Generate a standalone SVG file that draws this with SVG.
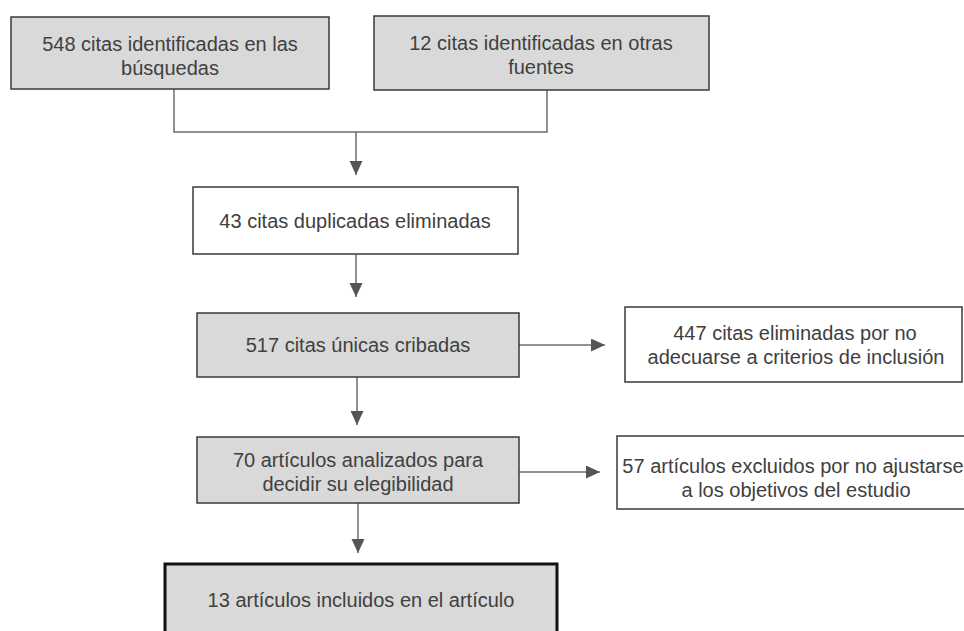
<svg xmlns="http://www.w3.org/2000/svg" width="964" height="631" viewBox="0 0 964 631">
<defs>
<style>
.box{fill:#d9d9d9;stroke:#3a3a3a;stroke-width:1.5}
.wbox{fill:#ffffff;stroke:#3a3a3a;stroke-width:1.5}
.final{fill:#d9d9d9;stroke:#111111;stroke-width:3}
.t{font-family:"Liberation Sans",Arial,sans-serif;font-size:20px;fill:#404040;text-anchor:middle}
.c{fill:none;stroke:#6e6e6e;stroke-width:1.5}
</style>
<marker id="ah" markerUnits="userSpaceOnUse" markerWidth="16" markerHeight="14" refX="14" refY="6.5" orient="auto">
<path d="M0,0 L14,6.5 L0,13 Z" fill="#555555"/>
</marker>
</defs>
<rect width="964" height="631" fill="#ffffff"/>
<g id="connectors">
<path class="c" d="M174,89 V132 H547 V90"/>
<path class="c" d="M356,132 V175" marker-end="url(#ah)"/>
<path class="c" d="M356,254 V297" marker-end="url(#ah)"/>
<path class="c" d="M357,377 V425" marker-end="url(#ah)"/>
<path class="c" d="M358,503 V553" marker-end="url(#ah)"/>
<path class="c" d="M519,345 H605" marker-end="url(#ah)"/>
<path class="c" d="M519,472 H600" marker-end="url(#ah)"/>
</g>
<g id="n1">
<rect class="box" x="11" y="17" width="318" height="72"/>
<text class="t" x="170" y="51">548 citas identificadas en las</text>
<text class="t" x="170" y="75">búsquedas</text>
</g>
<g id="n2">
<rect class="box" x="374" y="16" width="335" height="74"/>
<text class="t" x="541" y="50">12 citas identificadas en otras</text>
<text class="t" x="541" y="74">fuentes</text>
</g>
<g id="n3">
<rect class="wbox" x="193" y="187" width="325" height="67"/>
<text class="t" x="355" y="228">43 citas duplicadas eliminadas</text>
</g>
<g id="n4">
<rect class="box" x="197" y="313" width="322" height="64"/>
<text class="t" x="358" y="352">517 citas únicas cribadas</text>
</g>
<g id="n5">
<rect class="wbox" x="625" y="307" width="337" height="75"/>
<text class="t" x="795" y="340">447 citas eliminadas por no</text>
<text class="t" x="796" y="364">adecuarse a criterios de inclusión</text>
</g>
<g id="n6">
<rect class="box" x="197" y="437" width="322" height="66"/>
<text class="t" x="358" y="467">70 artículos analizados para</text>
<text class="t" x="358" y="491">decidir su elegibilidad</text>
</g>
<g id="n7">
<rect class="wbox" x="617" y="436" width="356" height="73"/>
<text class="t" x="793" y="473">57 artículos excluidos por no ajustarse</text>
<text class="t" x="796" y="497">a los objetivos del estudio</text>
</g>
<g id="n8">
<rect class="final" x="165" y="564" width="392" height="90"/>
<text class="t" x="361" y="607">13 artículos incluidos en el artículo</text>
</g>
</svg>
